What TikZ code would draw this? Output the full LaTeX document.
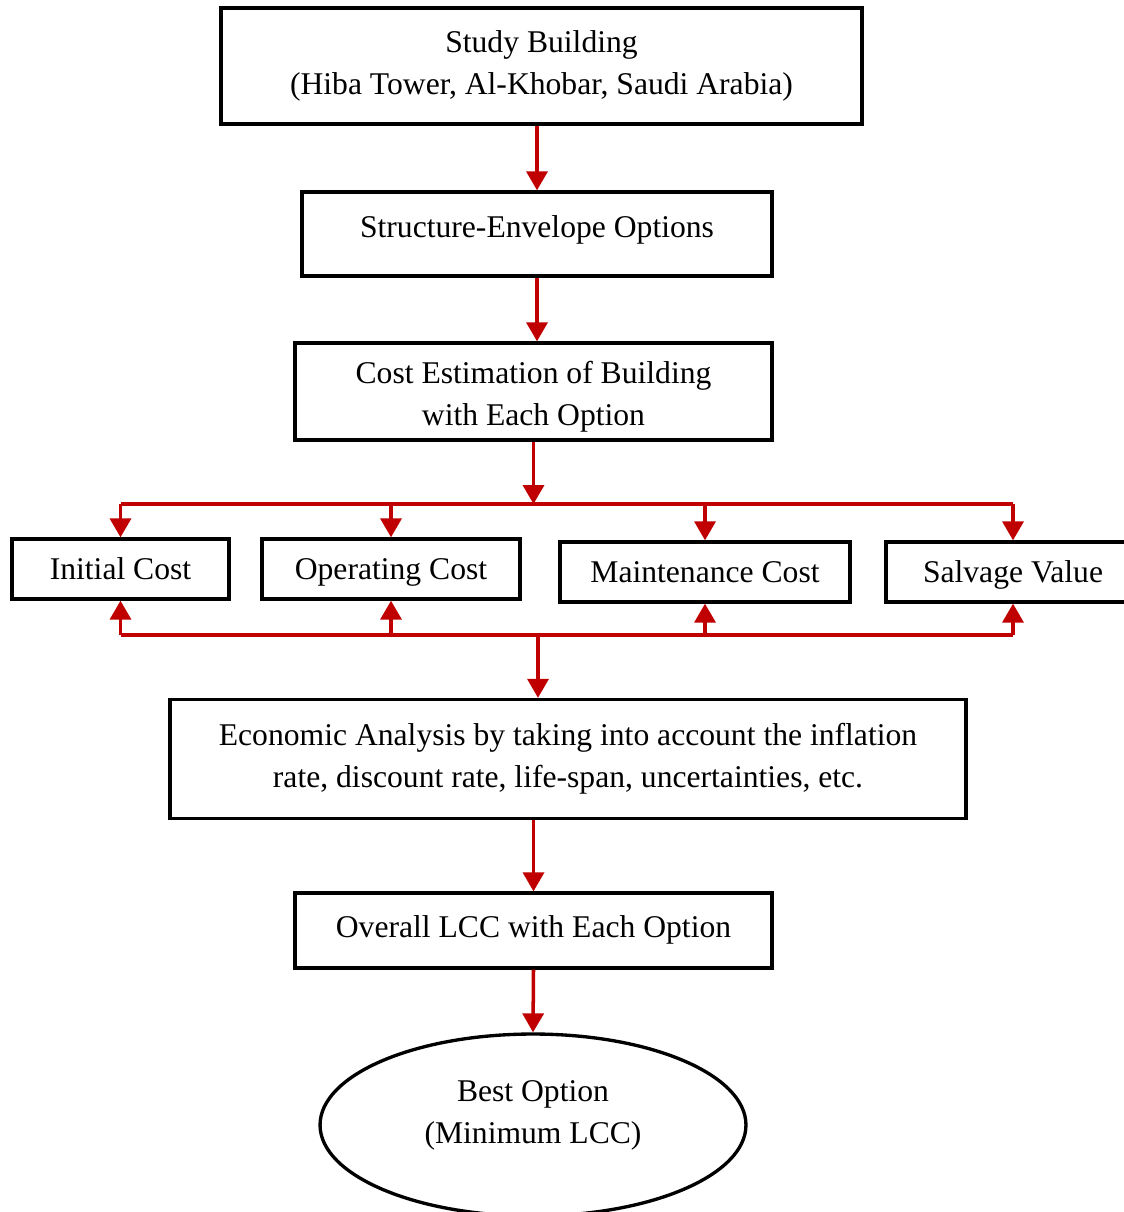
\documentclass[tikz,border=0pt]{standalone}
\usepackage{fontspec}
\setmainfont{Liberation Serif}
\usepackage{xcolor}
\usepackage{tikz}
\usetikzlibrary{arrows.meta,positioning,calc,shapes.geometric}
\definecolor{flowred}{HTML}{C00000}

\begin{document}
\begin{tikzpicture}[x=0.02cm, y=-0.02cm,
  box/.style={draw=black, line width=1.9pt, rectangle, align=center,
    inner sep=0pt, font=\fontsize{18}{24}\selectfont},
  oneline/.style={text depth=0pt},
  flow/.style={draw=flowred, line width=2pt,
    -{Triangle[width=0.42cm, length=0.38cm]}},
  bus/.style={draw=flowred, line width=2pt}]
\useasboundingbox (0,0) rectangle (1124,1212);

% --- Main column ---
\node[box, minimum width=12.82cm, minimum height=2.32cm] (study) at (541.5,66)
  {Study Building\\(Hiba Tower, Al-Khobar, Saudi Arabia)};
\node[box, oneline, minimum width=9.4cm, minimum height=1.68cm] (struct) at (537,234)
  {\raisebox{0.28cm}{Structure-Envelope Options}};
\node[box, minimum width=9.54cm, minimum height=1.94cm] (cost) at (533.5,391.5)
  {\rule{0pt}{0.67cm}Cost Estimation of Building\\with Each Option};

% --- Cost components ---
\node[box, oneline, minimum width=4.34cm, minimum height=1.2cm] (init) at (120.5,569) {Initial Cost};
\node[box, oneline, minimum width=5.16cm, minimum height=1.2cm] (oper) at (391,569) {Operating Cost};
\node[box, oneline, minimum width=5.8cm, minimum height=1.2cm] (maint) at (705,572) {Maintenance Cost};
\node[box, oneline, minimum width=5.08cm, minimum height=1.2cm] (salv) at (1013,572) {Salvage Value};

% --- Lower column ---
\node[box, minimum width=15.92cm, minimum height=2.38cm] (econ) at (568,759)
  {Economic Analysis by taking into account the inflation\\rate, discount rate, life-span, uncertainties, etc.};
\node[box, oneline, minimum width=9.54cm, minimum height=1.5cm] (overall) at (533.5,930.5)
  {\raisebox{0.16cm}{Overall LCC with Each Option}};
\node[box, ellipse, minimum width=8.52cm, minimum height=3.64cm] (best) at (533,1125) {};
\node[align=center, inner sep=0pt, font=\fontsize{18}{24}\selectfont] (bestlbl)
  at ([yshift=0.2cm]best.center) {Best Option\\(Minimum LCC)};

% Bus lines
\coordinate (bustop) at (533,504);
\coordinate (busbot) at (538,635);

% Arrows
\draw[flow] (struct.north |- study.south) -- (struct.north);
\draw[flow] (struct.south) -- (struct.south |- cost.north);
\draw[flow] (cost.south) -- (cost.south |- bustop);
\draw[bus] (init.north |- bustop) -- (salv.north |- bustop);
\foreach \n in {init,oper,maint,salv}
  \draw[flow] (\n.north |- bustop) -- (\n.north);
\draw[bus] (init.south |- busbot) -- (salv.south |- busbot);
\foreach \n in {init,oper,maint,salv}
  \draw[flow] (\n.south |- busbot) -- (\n.south);
\draw[flow] (busbot) -- (busbot |- econ.north);
\draw[flow] (econ.south -| overall.north) -- (overall.north);
\draw[flow] (overall.south) -- (best.north);
\end{tikzpicture}
\end{document}
